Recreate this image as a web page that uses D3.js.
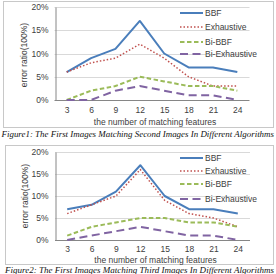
<!DOCTYPE html>
<html><head><meta charset="utf-8">
<script src="https://cdn.jsdelivr.net/npm/d3@7"></script>
<style>body{margin:0;background:#fff}svg{display:block}</style>
</head><body>
<script>
const categories = [3, 6, 9, 12, 15, 18, 21, 24];
const yTicks = [0, 5, 10, 15, 20];
const seriesNames = ["BBF", "Exhaustive", "Bi-BBF", "Bi-Exhaustive"];
// Figure 1
const fig1BBF = [6, 9, 11, 17, 10, 7, 7, 6];
const fig1Exhaustive = [6, 8, 9, 12, 9, 5, 3, 3];
const fig1BiBBF = [0, 2, 3, 5, 4, 3, 3, 2];
const fig1BiExhaustive = [0, 0, 2, 3, 2, 1, 1, 0];
// Figure 2
const fig2BBF = [7, 8, 11, 17, 10, 7, 7, 6];
const fig2Exhaustive = [6, 8, 10, 16, 9, 6, 5, 3];
const fig2BiBBF = [1, 3, 4, 5, 5, 4, 4, 3];
const fig2BiExhaustive = [0, 1, 2, 3, 2, 1, 1, 0];
const xTitle = "the number of matching features";
const yTitle = "error ratio(100%)";
const caption1 = "Figure1: The First Images Matching Second Images In Different Algorithms";
const caption2 = "Figure2: The First Images Matching Third Images In Different Algorithms";

const styles = [
  {color: "#4A7EBB", width: 2, dash: null},
  {color: "#C0504D", width: 1.5, dash: "1.5,2"},
  {color: "#9BBB59", width: 2, dash: "4.5,2.5"},
  {color: "#8064A2", width: 2, dash: "8,4.5"}
];

const W = 276, H = 274;
const svg = d3.select("body").append("svg").attr("width", W).attr("height", H);
const font = "'Liberation Sans', Arial, sans-serif";
const txt = "#404040";

function drawChart(L, series, caption) {
  const g = svg.append("g");
  g.append("rect").attr("x", L.box[0] + 0.5).attr("y", L.box[1] + 0.5)
    .attr("width", L.box[2]).attr("height", L.box[3])
    .attr("fill", "#fff").attr("stroke", "#c8c8c8").attr("stroke-width", 1);
  const x = d3.scalePoint().domain(categories).range([L.left, L.right]).padding(0.5);
  const y = d3.scaleLinear().domain([0, 20]).range([L.bottom, L.top]);
  g.append("g").selectAll("line").data(yTicks.slice(1)).join("line")
    .attr("x1", L.left).attr("x2", L.right)
    .attr("y1", d => Math.round(y(d)) + 0.5).attr("y2", d => Math.round(y(d)) + 0.5)
    .attr("stroke", "#d9d9d9").attr("stroke-width", 1);
  const ya = g.append("g").attr("transform", `translate(${Math.round(L.left) + 0.5},0)`)
    .call(d3.axisLeft(y).tickValues(yTicks).tickFormat(d => d + "%").tickSize(0).tickPadding(7));
  ya.select(".domain").attr("stroke", "#868686");
  ya.selectAll("text").attr("font-family", font).attr("font-size", 8.5).attr("fill", txt);
  const xa = g.append("g").attr("transform", `translate(0,${Math.round(L.bottom) + 0.5})`)
    .call(d3.axisBottom(x).tickSize(0).tickPadding(L.xPad));
  xa.select(".domain").attr("stroke", "#868686").attr("d", `M${L.left},0H${L.right}`);
  xa.selectAll("text").attr("font-family", font).attr("font-size", 8.5).attr("fill", txt);
  g.append("text").attr("x", (L.left + L.right) / 2 + 3).attr("y", L.xTitleY)
    .attr("text-anchor", "middle").attr("font-family", font).attr("font-size", 8.5)
    .attr("fill", txt).text(xTitle);
  g.append("text").attr("transform", `translate(${L.yTitleX},${L.yTitleY}) rotate(-90)`)
    .attr("text-anchor", "middle").attr("font-family", font).attr("font-size", 8.5)
    .attr("fill", txt).text(yTitle);
  const line = d3.line().x((d, i) => x(categories[i])).y(d => y(d));
  series.forEach((s, k) => {
    g.append("path").attr("d", line(s)).attr("fill", "none")
      .attr("stroke", styles[k].color).attr("stroke-width", styles[k].width)
      .attr("stroke-dasharray", styles[k].dash).attr("stroke-linejoin", "round");
  });
  seriesNames.forEach((n, k) => {
    const ly = L.legendY[k];
    g.append("line").attr("x1", 180).attr("x2", 203).attr("y1", ly).attr("y2", ly)
      .attr("stroke", styles[k].color).attr("stroke-width", styles[k].width)
      .attr("stroke-dasharray", styles[k].dash);
    g.append("text").attr("x", 205).attr("y", ly + 3).attr("font-family", font)
      .attr("font-size", 8.5).attr("fill", txt).text(n);
  });
  svg.append("text").attr("x", L.capX).attr("y", L.capY)
    .attr("font-family", "'Liberation Serif', 'Times New Roman', serif")
    .attr("font-style", "italic").attr("font-size", 9).attr("fill", "#111")
    .attr("textLength", 274 - L.capX).attr("lengthAdjust", "spacingAndGlyphs")
    .text(caption);
}

drawChart({box: [3, 1, 270, 126], left: 54.5, right: 249.5, top: 7, bottom: 100, xPad: 6,
  xTitleY: 125, yTitleX: 27, yTitleY: 55, legendY: [13, 27, 42, 54], capX: 1.5, capY: 137},
  [fig1BBF, fig1Exhaustive, fig1BiBBF, fig1BiExhaustive], caption1);
drawChart({box: [5, 145, 268, 119], left: 55, right: 250, top: 152, bottom: 240, xPad: 5,
  xTitleY: 262.5, yTitleX: 28, yTitleY: 196, legendY: [158, 171, 184, 199], capX: 5, capY: 272.5},
  [fig2BBF, fig2Exhaustive, fig2BiBBF, fig2BiExhaustive], caption2);
</script>
</body></html>
